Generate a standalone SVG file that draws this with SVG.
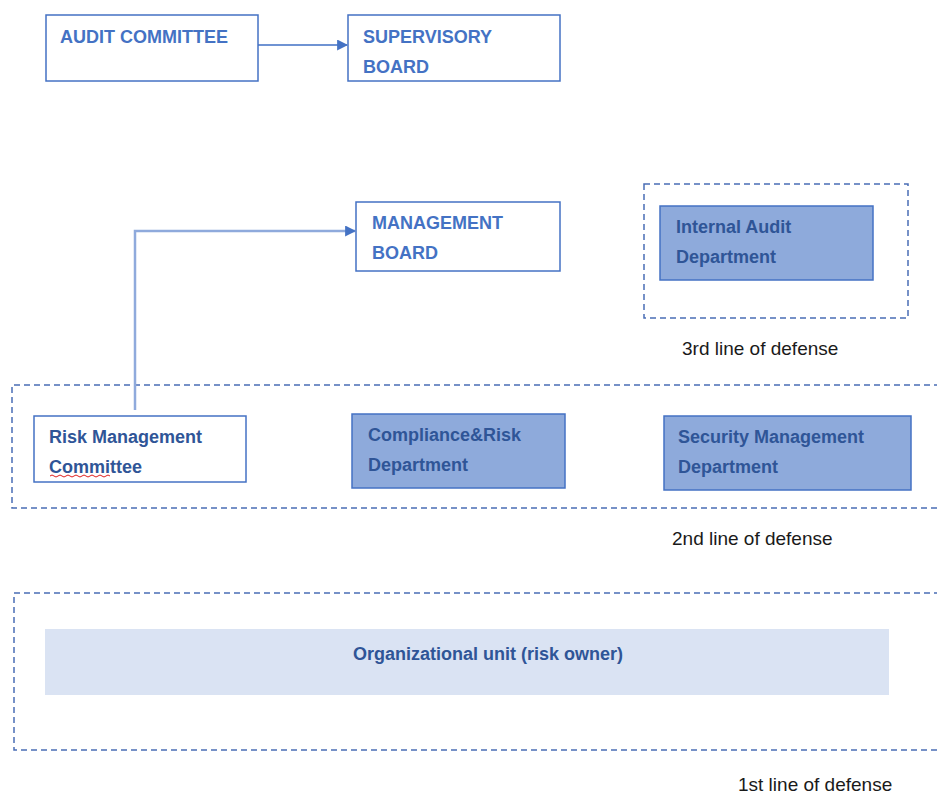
<svg xmlns="http://www.w3.org/2000/svg" width="937" height="798" viewBox="0 0 937 798">
<style>
.box{fill:#ffffff;stroke:#4472c4;stroke-width:1.5}
.fbox{fill:#8eaadb;stroke:#4472c4;stroke-width:1.5}
.lbox{fill:#dae3f3;stroke:none}
.dash{fill:none;stroke:#4a6db5;stroke-width:1.5;stroke-dasharray:6 4}
.t{font-family:"Liberation Sans",Arial,sans-serif;font-weight:bold;font-size:18px;fill:#4472c4}
.td{font-family:"Liberation Sans",Arial,sans-serif;font-weight:bold;font-size:18px;fill:#2f5597}
.lab{font-family:"Liberation Sans",Arial,sans-serif;font-size:19px;fill:#1a1a1a}
.conn{fill:none;stroke:#6f93d3;stroke-width:2}
.conn2{fill:none;stroke:#8faadc;stroke-width:2.5}
</style>
<defs>
<marker id="arr" viewBox="0 0 10 10" refX="9" refY="5" markerWidth="11" markerHeight="11" markerUnits="userSpaceOnUse" orient="auto">
<path d="M0,0 L10,5 L0,10 z" fill="#4472c4"/>
</marker>
</defs>
<rect width="937" height="798" fill="#ffffff"/>
<g id="zones">
<rect class="dash" x="644" y="184" width="264" height="134"/>
<path class="dash" d="M940,385 H12 V508 H940"/>
<path class="dash" d="M940,593 H14 V750 H940"/>
</g>
<g id="connectors">
<path class="conn" d="M258,45 H347" marker-end="url(#arr)"/>
<path class="conn2" d="M135,410 V231 H355" marker-end="url(#arr)"/>
</g>
<g id="audit-committee">
<rect class="box" x="46" y="15" width="212" height="66"/>
<text class="t" x="60" y="43">AUDIT COMMITTEE</text>
</g>
<g id="supervisory-board">
<rect class="box" x="348" y="15" width="212" height="66"/>
<text class="t" x="363" y="43">SUPERVISORY</text>
<text class="t" x="363" y="73">BOARD</text>
</g>
<g id="management-board">
<rect class="box" x="356" y="202" width="204" height="69"/>
<text class="t" x="372" y="229">MANAGEMENT</text>
<text class="t" x="372" y="259">BOARD</text>
</g>
<g id="internal-audit">
<rect class="fbox" x="660" y="206" width="213" height="74"/>
<text class="td" x="676" y="233">Internal Audit</text>
<text class="td" x="676" y="263">Department</text>
</g>
<text class="lab" x="682" y="355">3rd line of defense</text>
<g id="risk-management-committee">
<rect class="box" x="34" y="416" width="212" height="66"/>
<text class="td" x="49" y="443">Risk Management</text>
<text class="td" x="49" y="473">Committee</text>
<path d="M50,476 q2,-2 4,0 t4,0 t4,0 t4,0 t4,0 t4,0 t4,0 t4,0 t4,0 t4,0 t4,0 t4,0 t4,0 t4,0 t4,0" fill="none" stroke="#e02020" stroke-width="1"/>
</g>
<g id="compliance-risk">
<rect class="fbox" x="352" y="414" width="213" height="74"/>
<text class="td" x="368" y="441">Compliance&amp;Risk</text>
<text class="td" x="368" y="471">Department</text>
</g>
<g id="security-management">
<rect class="fbox" x="664" y="416" width="247" height="74"/>
<text class="td" x="678" y="443">Security Management</text>
<text class="td" x="678" y="473">Department</text>
</g>
<text class="lab" x="672" y="545">2nd line of defense</text>
<g id="organizational-unit">
<rect class="lbox" x="45" y="629" width="844" height="66"/>
<text class="td" x="488" y="660" text-anchor="middle">Organizational unit (risk owner)</text>
</g>
<text class="lab" x="738" y="791">1st line of defense</text>
</svg>
